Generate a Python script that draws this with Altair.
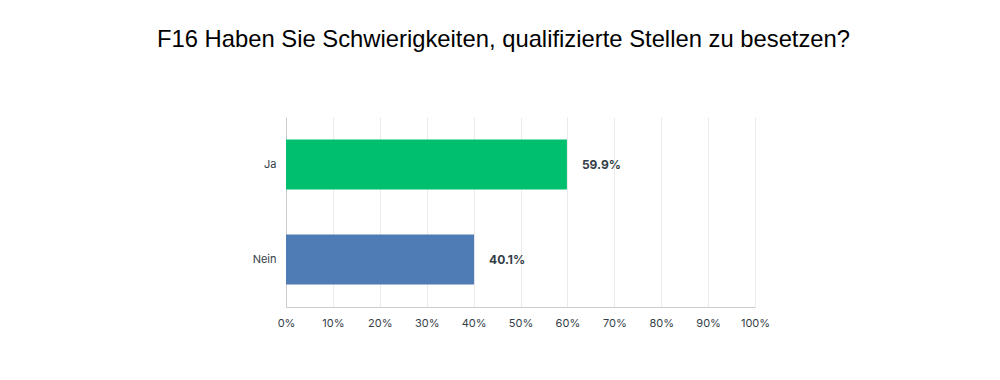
import altair as alt
import pandas as pd

categories = ["Ja", "Nein"]
values = [59.9, 40.1]
colors = ["#00bf6f", "#507cb6"]
labels = ["59.9%", "40.1%"]

df = pd.DataFrame({"cat": categories, "val": values, "color": colors, "label": labels})

y_enc = alt.Y("cat:N", sort=categories, title=None,
              scale=alt.Scale(paddingInner=0.474, paddingOuter=0.237),
              axis=alt.Axis(ticks=False, labelPadding=10, labelFont="Inter", labelFontSize=11,
                            labelColor="#333e48", domainColor="#cccccc", grid=False))
x_enc = alt.X("val:Q", title=None,
              scale=alt.Scale(domain=[0, 100], nice=False),
              axis=alt.Axis(values=list(range(0, 101, 10)), labelExpr="datum.value + '%'",
                            ticks=False, labelPadding=10, labelFont="Inter", labelFontSize=11,
                            labelColor="#333e48", domainColor="#cccccc",
                            grid=True, gridColor="#ebebeb", labelFlush=False))

bars = alt.Chart(df).mark_bar().encode(
    x=x_enc, y=y_enc, color=alt.Color("color:N", scale=None)
)
text = alt.Chart(df).mark_text(align="left", dx=15, font="Inter", fontSize=12,
                               fontWeight="bold", color="#333e48").encode(
    x="val:Q",
    y=alt.Y("cat:N", sort=categories),
    text="label:N"
)

chart = alt.layer(bars, text).properties(
    width=469, height=190,
    title=alt.TitleParams("F16 Haben Sie Schwierigkeiten, qualifizierte Stellen zu besetzen?",
                          font="Liberation Sans", fontSize=23.8, fontWeight="normal",
                          color="#000000", anchor="middle", dx=-17, offset=65),
    autosize=alt.AutoSizeParams(type="none"),
    padding={"left": 278, "top": 109, "right": 200, "bottom": 60},
).configure(background="white").configure_view(strokeWidth=0)

chart.save("out.html", embed_options={"renderer": "svg", "actions": False})
